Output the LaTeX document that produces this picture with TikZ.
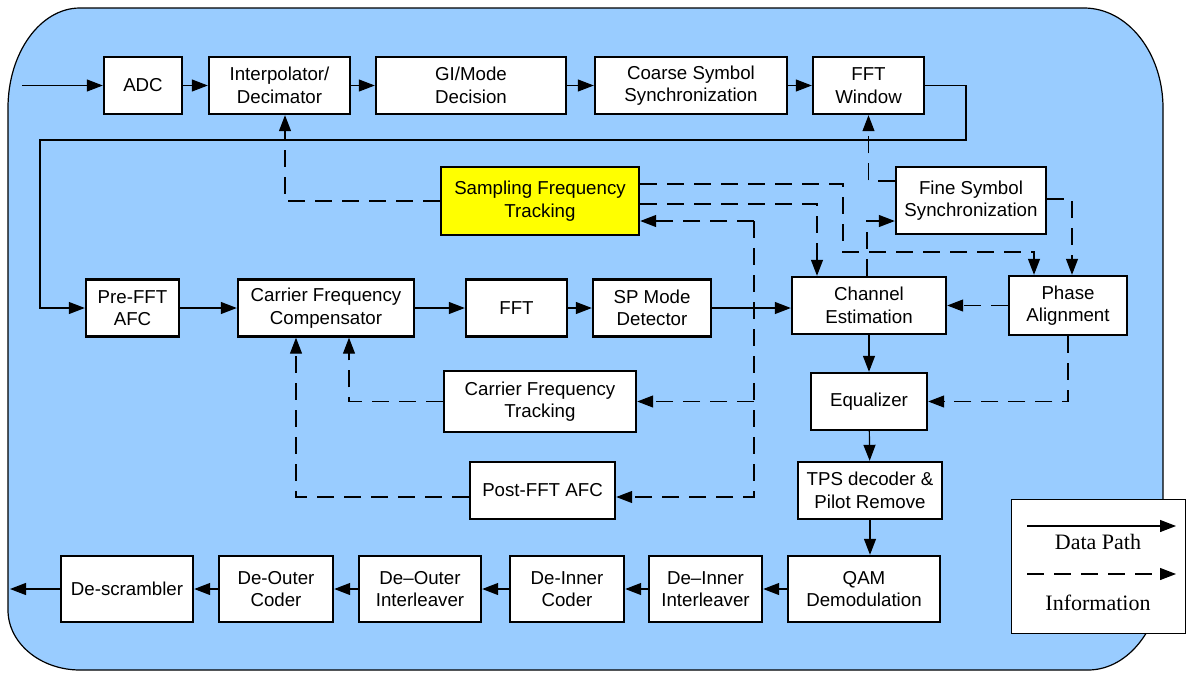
\documentclass[tikz,border=0pt]{standalone}
\usepackage{fontspec}
\setmainfont{Liberation Sans}
\newfontfamily\legendfont{Liberation Serif}
\usetikzlibrary{arrows.meta}
\definecolor{panelblue}{HTML}{99CCFF}
\definecolor{trackyellow}{HTML}{FFFF00}
\begin{document}
\begin{tikzpicture}[x=1pt,y=-1pt,
  blockbox/.style={draw=black, line width=2.4pt, fill=white, align=center,
    inner sep=0pt, minimum height=57pt, font=\fontsize{18.7}{22.5}\selectfont},
  flow/.style={line width=1.2pt, -{Triangle[length=16pt,width=12pt]}},
  info/.style={flow, dash pattern=on 17pt off 10pt},
  legendtext/.style={font=\legendfont\fontsize{22}{26}\selectfont, inner sep=0pt},
]
\useasboundingbox (0,0) rectangle (1189,673);

% receiver panel
\fill[panelblue, draw=black, line width=1.2pt]
  (80,8) -- (1084,8) .. controls (1127.6,8) and (1163,52.8) .. (1163,108)
  -- (1163,570) .. controls (1163,625.2) and (1129.4,670) .. (1088,670)
  -- (80,670) .. controls (40.3,670) and (8,643.1) .. (8,610)
  -- (8,108) .. controls (8,52.8) and (40.3,8) .. (80,8) -- cycle;

% top row
\node[blockbox, minimum width=78pt]  (adc)    at (143,85.5)   {ADC};
\node[blockbox, minimum width=141pt] (interp) at (279.5,85.5) {Interpolator/\\Decimator};
\node[blockbox, minimum width=190pt] (gimode) at (471,85.5)   {GI/Mode\\Decision};
\node[blockbox, minimum width=192pt] (coarse) at (691,85.5)   {Coarse Symbol\\Synchronization};
\node[blockbox, minimum width=111pt] (fftwin) at (868.5,85.5) {FFT\\Window};

% tracking blocks
\node[blockbox, fill=trackyellow, minimum width=198pt, minimum height=68pt] (sft) at (540,201)
  {Sampling Frequency\\Tracking};
\node[blockbox, minimum width=150pt, minimum height=67pt] (fss) at (971,200.5)
  {Fine Symbol\\Synchronization};

% middle row
\node[blockbox, minimum width=93pt]  (preafc) at (132.5,308) {Pre-FFT\\AFC};
\node[blockbox, minimum width=176pt] (cfc)    at (326,308)   {Carrier Frequency\\Compensator};
\node[blockbox, minimum width=101pt] (fft)    at (516.5,308) {FFT};
\node[blockbox, minimum width=118pt] (spmode) at (652,308)   {SP Mode\\Detector};
\node[blockbox, minimum width=154pt] (chest)  at (869,305.5) {Channel\\Estimation};
\node[blockbox, minimum width=118pt, minimum height=59pt] (phase) at (1068,305.5) {Phase\\Alignment};

\node[blockbox, minimum width=192pt, minimum height=61pt] (cft) at (540,401.5) {Carrier Frequency\\Tracking};
\node[blockbox, minimum width=116pt] (eq) at (869,401.5) {Equalizer};
\node[blockbox, minimum width=145pt] (postafc) at (542.5,490.5) {Post-FFT AFC};
\node[blockbox, minimum width=144pt] (tps) at (870,490.5) {TPS decoder \&\\Pilot Remove};

% bottom row
\node[blockbox, minimum width=132pt, minimum height=66pt] (descr)  at (127,589)   {De-scrambler};
\node[blockbox, minimum width=114pt, minimum height=66pt] (deoutc) at (276,589)   {De-Outer\\Coder};
\node[blockbox, minimum width=122pt, minimum height=66pt] (deouti) at (420,589)   {De–Outer\\Interleaver};
\node[blockbox, minimum width=114pt, minimum height=66pt] (deinc)  at (567,589)   {De-Inner\\Coder};
\node[blockbox, minimum width=113pt, minimum height=66pt] (deini)  at (705.5,589) {De–Inner\\Interleaver};
\node[blockbox, minimum width=152pt, minimum height=66pt] (qam)    at (864,589)   {QAM\\Demodulation};

% free ends and corners
\coordinate (rfin)   at (22,85.5);
\coordinate (dataout) at (10,589);
\coordinate (loopR)  at (966,140);
\coordinate (loopL)  at (40,140);
\coordinate (sftbend) at (843,252);
\coordinate (busTop) at (754,221);
\coordinate (busBot) at (754,497);

% data path
\draw[flow] (rfin) -- (adc);
\draw[flow] (adc) -- (interp);
\draw[flow] (interp) -- (gimode);
\draw[flow] (gimode) -- (coarse);
\draw[flow] (coarse) -- (fftwin);
\draw[flow] (fftwin.east) -| (loopR) -- (loopL) |- (preafc.west);
\draw[flow] (preafc) -- (cfc);
\draw[flow] (cfc) -- (fft);
\draw[flow] (fft) -- (spmode);
\draw[flow] (spmode.east) -- (spmode.east -| chest.west);
\draw[flow] (chest) -- (eq);
\draw[flow] (eq) -- (tps);
\draw[flow] (tps.south) -- (tps.south |- qam.north);
\draw[flow] (qam) -- (deini);
\draw[flow] (deini) -- (deinc);
\draw[flow] (deinc) -- (deouti);
\draw[flow] (deouti) -- (deoutc);
\draw[flow] (deoutc) -- (descr);
\draw[flow] (descr.west) -- (dataout);

% information paths
\draw[info] (sft.west) -| ([xshift=5.5pt]interp.south);
\draw[info] ([yshift=-3pt]sft.east) -| ([xshift=-52pt]chest.north);
\draw[info] ([yshift=17pt]sft.east) -| (sftbend) -| ([xshift=-34pt]phase.north);
\draw[info] (busTop) -- (busTop -| sft.east);
\draw[info] (busTop) -- (busBot) -- (busBot -| postafc.east);
\draw[info] (busTop |- cft.east) -- (cft.east);
\draw[info] (cft.west) -| ([xshift=23pt]cfc.south);
\draw[info] ([yshift=-6.5pt]postafc.west) -| ([xshift=-30pt]cfc.south);
\draw[info] ([yshift=19.5pt]fss.west) -| (fftwin.south);
\draw[info] ([xshift=-2pt]chest.north) |- ([yshift=-20.5pt]fss.west);
\draw[info] ([yshift=1.5pt]fss.east) -| ([xshift=4pt]phase.north);
\draw[info] (phase) -- (chest);
\draw[info] (phase.south) |- (eq.east);

% legend
\node[draw=black, line width=1pt, fill=white, minimum width=174pt, minimum height=134pt,
  inner sep=0pt] (legend) at (1098,566) {};
\coordinate (lgDataA) at (1027,526);
\coordinate (lgDataB) at (1176,526);
\coordinate (lgInfoA) at (1027,574);
\coordinate (lgInfoB) at (1176,574);
\draw[flow] (lgDataA) -- (lgDataB);
\draw[info] (lgInfoA) -- (lgInfoB);
\node[legendtext] (lgData) at (1098,542) {Data Path};
\node[legendtext] (lgInfo) at (1098,603) {Information};
\end{tikzpicture}
\end{document}
